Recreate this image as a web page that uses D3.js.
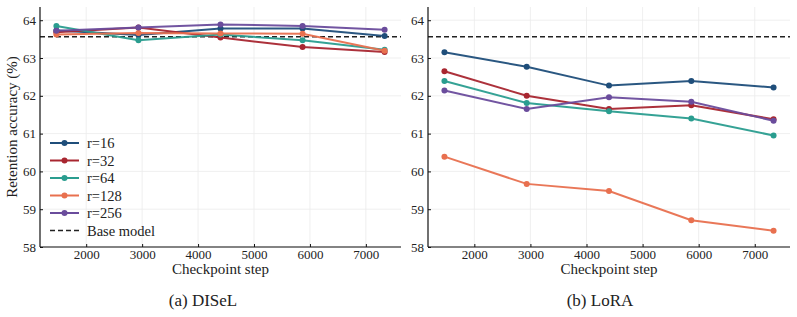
<!DOCTYPE html>
<html>
<head>
<meta charset="utf-8">
<script src="https://cdn.jsdelivr.net/npm/d3@7"></script>
<style>
  body { margin: 0; background: #fff; }
</style>
</head>
<body>
<div id="chart"></div>
<script>
// checkpoint steps and tick labels
var steps = [1467, 2934, 4401, 5868, 7335];
var xTicks = [2000, 3000, 4000, 5000, 6000, 7000];
var yTicks = [58, 59, 60, 61, 62, 63, 64];
var baseModel = 63.56;

var seriesNames = ["r=16", "r=32", "r=64", "r=128", "r=256"];
var seriesColors = ["#1f4e7a", "#a82630", "#2a9d8f", "#e8704f", "#6a4c9c"];

// DISeL retention accuracy
var diselR16 = [63.73, 63.61, 63.78, 63.78, 63.58];
var diselR32 = [63.68, 63.81, 63.54, 63.29, 63.16];
var diselR64 = [63.85, 63.47, 63.62, 63.47, 63.22];
var diselR128 = [63.62, 63.66, 63.65, 63.64, 63.19];
var diselR256 = [63.72, 63.81, 63.89, 63.85, 63.75];

// LoRA retention accuracy
var loraR16 = [63.15, 62.77, 62.27, 62.39, 62.22];
var loraR32 = [62.65, 62.00, 61.65, 61.75, 61.38];
var loraR64 = [62.39, 61.81, 61.59, 61.40, 60.95];
var loraR128 = [60.39, 59.67, 59.48, 58.71, 58.43];
var loraR256 = [62.14, 61.65, 61.96, 61.84, 61.34];

var serif = "Liberation Serif, Times New Roman, serif";

var svg = d3.select("#chart").append("svg")
    .attr("width", 797)
    .attr("height", 317)
    .attr("font-family", serif);

function drawPanel(series, left, right, caption, captionX, showYLabel, showLegend) {
    var top = 7, bottom = 247;
    var x = d3.scaleLinear().domain([1174, 7628]).range([left, right]);
    var y = d3.scaleLinear().domain([58, 64.35]).range([bottom, top]);
    var g = svg.append("g");

    // grid
    g.selectAll(".gx").data(xTicks).enter().append("line")
        .attr("x1", d => x(d)).attr("x2", d => x(d))
        .attr("y1", top).attr("y2", bottom)
        .attr("stroke", "#ebebeb").attr("stroke-width", 0.8);
    g.selectAll(".gy").data(yTicks).enter().append("line")
        .attr("x1", left).attr("x2", right)
        .attr("y1", d => y(d)).attr("y2", d => y(d))
        .attr("stroke", "#ebebeb").attr("stroke-width", 0.8);

    // base model line
    g.append("line")
        .attr("x1", left).attr("x2", right)
        .attr("y1", y(baseModel)).attr("y2", y(baseModel))
        .attr("stroke", "#222").attr("stroke-width", 1.5)
        .attr("stroke-dasharray", "5,3");

    var line = d3.line().x((d, i) => x(steps[i])).y(d => y(d));
    series.forEach(function (vals, k) {
        g.append("path").datum(vals)
            .attr("d", line)
            .attr("fill", "none")
            .attr("stroke", seriesColors[k])
            .attr("stroke-width", 2)
            .attr("stroke-opacity", 0.95);
        g.selectAll(".pt" + k).data(vals).enter().append("circle")
            .attr("cx", (d, i) => x(steps[i]))
            .attr("cy", d => y(d))
            .attr("r", 3)
            .attr("fill", seriesColors[k]);
    });

    // axes
    var xAxis = d3.axisBottom(x).tickValues(xTicks).tickSize(-3).tickPadding(3).tickFormat(d3.format("d"));
    var yAxis = d3.axisLeft(y).tickValues(yTicks).tickSize(-3).tickPadding(4).tickFormat(d3.format("d"));
    var gx = g.append("g").attr("transform", "translate(0," + bottom + ")").call(xAxis);
    var gy = g.append("g").attr("transform", "translate(" + left + ",0)").call(yAxis);
    [gx, gy].forEach(function (a) {
        a.attr("font-family", serif).attr("font-size", 13);
        a.select(".domain").attr("stroke", "#111").attr("stroke-width", 1.2);
        a.selectAll(".tick line").attr("stroke", "#111");
        a.selectAll("text").attr("fill", "#222");
    });
    gx.select(".domain").attr("d", "M" + left + ",0H" + right);
    gy.select(".domain").attr("d", "M0," + top + "V" + bottom);

    g.append("text")
        .attr("x", (left + right) / 2).attr("y", 274)
        .attr("text-anchor", "middle").attr("font-size", 15)
        .attr("fill", "#222")
        .text("Checkpoint step");

    if (showYLabel) {
        g.append("text")
            .attr("transform", "translate(17," + ((top + bottom) / 2) + ") rotate(-90)")
            .attr("text-anchor", "middle").attr("font-size", 15)
            .attr("fill", "#222")
            .text("Retention accuracy (%)");
    }

    g.append("text")
        .attr("x", captionX).attr("y", 306)
        .attr("text-anchor", "middle").attr("font-size", 17)
        .attr("fill", "#222")
        .text(caption);

    if (showLegend) {
        var lg = g.append("g").attr("transform", "translate(50,143)");
        seriesNames.forEach(function (name, k) {
            var row = lg.append("g").attr("transform", "translate(0," + (k * 17.5) + ")");
            row.append("line").attr("x1", 0).attr("x2", 29).attr("y1", 0).attr("y2", 0)
                .attr("stroke", seriesColors[k]).attr("stroke-width", 2);
            row.append("circle").attr("cx", 14.5).attr("cy", 0).attr("r", 3).attr("fill", seriesColors[k]);
            row.append("text").attr("x", 37).attr("y", 5).attr("font-size", 14.5)
                .attr("fill", "#222").text(name);
        });
        var row = lg.append("g").attr("transform", "translate(0," + (5 * 17.5) + ")");
        row.append("line").attr("x1", 0).attr("x2", 29).attr("y1", 0).attr("y2", 0)
            .attr("stroke", "#222").attr("stroke-width", 1.5).attr("stroke-dasharray", "5,3");
        row.append("text").attr("x", 37).attr("y", 5).attr("font-size", 14.5)
            .attr("fill", "#222").text("Base model");
    }
}

drawPanel([diselR16, diselR32, diselR64, diselR128, diselR256], 40, 401, "(a) DISeL", 203, true, true);
drawPanel([loraR16, loraR32, loraR64, loraR128, loraR256], 428, 790, "(b) LoRA", 600, false, false);
</script>
</body>
</html>
